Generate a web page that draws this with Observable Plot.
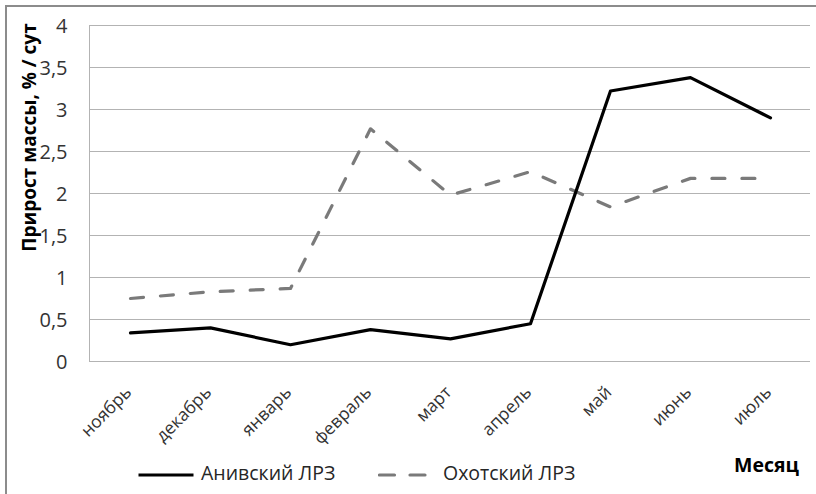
<!DOCTYPE html>
<html><head><meta charset="utf-8">
<script src="https://cdn.jsdelivr.net/npm/d3@7"></script>
<script src="https://cdn.jsdelivr.net/npm/@observablehq/plot@0.6"></script>
<style>
html,body{margin:0;padding:0;background:#fff;}
#wrap{position:relative;width:816px;height:494px;overflow:hidden;font-family:"Open Sans",sans-serif;}
#border{position:absolute;left:5px;top:5px;width:900px;height:600px;border-top:2px solid #8c8c8c;border-left:2px solid #8c8c8c;box-sizing:border-box;}
#chart{position:absolute;left:0;top:0;}
.leg{position:absolute;font-size:19.5px;color:#262626;white-space:nowrap;line-height:1;}
</style></head>
<body><div id="wrap"><div id="border"></div><div id="chart"></div>
<div class="leg" id="l1" style="left:137px;top:463px;"></div>
<div class="leg" id="l2" style="left:378px;top:463px;"></div>
<div class="leg" id="xl" style="left:734px;top:455px;font-weight:bold;font-size:19.5px;color:#000;"></div>
</div>
<script>
const months = ["ноябрь","декабрь","январь","февраль","март","апрель","май","июнь","июль"];
const seriesNames = ["Анивский ЛРЗ","Охотский ЛРЗ"];
const anivsky = [0.34,0.40,0.20,0.38,0.27,0.45,3.22,3.38,2.90];
const okhotsky = [0.75,0.83,0.87,2.77,1.98,2.26,1.84,2.18,2.18];
const yTicks = [0,0.5,1,1.5,2,2.5,3,3.5,4];
const yTitle = "Прирост массы, % / сут";
const xTitle = "Месяц";

const rowsA = months.map((m,i)=>({month:m, value:anivsky[i]}));
const rowsO = months.map((m,i)=>({month:m, value:okhotsky[i]}));
const fmt = d => String(d).replace(".", ",");

const plot = Plot.plot({
  width: 816, height: 458,
  marginLeft: 89, marginRight: 6, marginTop: 25, marginBottom: 97,
  style: {fontFamily: '"Open Sans", sans-serif', fontSize: "16px", color: "#333", background: "transparent", overflow: "visible"},
  x: {type: "point", domain: months, padding: 0.5, label: null, axis: null},
  y: {domain: [0,4], label: null, axis: null},
  marks: [
    Plot.gridY(yTicks, {stroke: "#b3b3b3", strokeOpacity: 1, strokeWidth: 1}),
    Plot.frame({anchor: "left", stroke: "#b3b3b3", strokeWidth: 1}),
    Plot.text(yTicks, {y: d => d, text: fmt, frameAnchor: "left", textAnchor: "end", dx: -22, dy: 1, fontSize: 20, fill: "#333"}),
    Plot.text(months, {x: d => d, frameAnchor: "bottom", textAnchor: "end", rotate: -45, dx: 2, dy: 32, fontSize: 17.5, fill: "#333"}),
    Plot.line(rowsO, {x: "month", y: "value", stroke: "#7a7a7a", strokeWidth: 3.2, strokeDasharray: "13,17", strokeLinecap: "round"}),
    Plot.line(rowsA, {x: "month", y: "value", stroke: "#000", strokeWidth: 3.2}),
    Plot.text([yTitle], {frameAnchor: "left", textAnchor: "middle", rotate: -90, dx: -60, dy: -56, fontWeight: "bold", fontSize: 19, fill: "#000"})
  ]
});
document.getElementById("chart").appendChild(plot);

function swatch(dash, color){
  return `<svg width="${dash?59:58}" height="10" style="vertical-align:middle;margin-right:6px"><line x1="1.5" y1="5" x2="${dash? 48:56.5}" y2="5" stroke="${color}" stroke-width="3.2" ${dash? 'stroke-dasharray="15,15.5" stroke-linecap="round"' : ''}/></svg>`;
}
document.getElementById("l1").innerHTML = swatch(false,"#000") + `<span>${seriesNames[0]}</span>`;
document.getElementById("l2").innerHTML = swatch(true,"#7a7a7a") + `<span>${seriesNames[1]}</span>`;
document.getElementById("xl").innerHTML = `<span>${xTitle}</span>`;
</script></body></html>
